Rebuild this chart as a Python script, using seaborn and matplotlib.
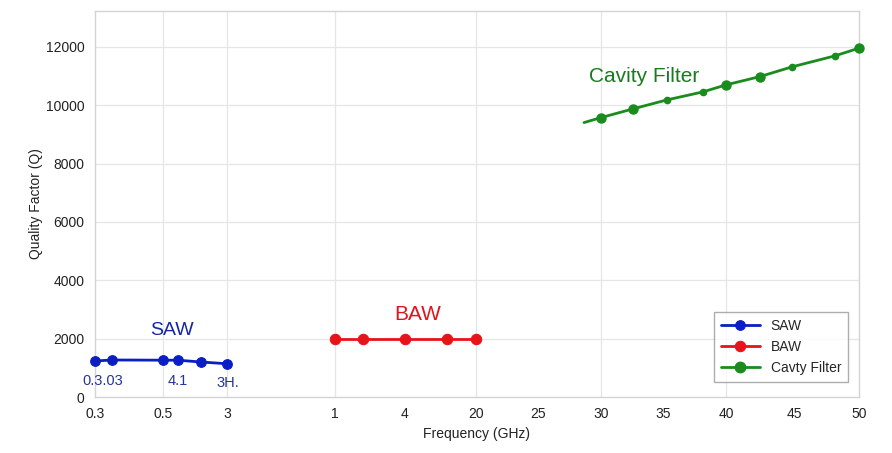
import numpy as np
import pandas as pd
import matplotlib
matplotlib.use("Agg")
import matplotlib.pyplot as plt
import seaborn as sns

# x axis is a custom (non-linear) frequency scale: label -> axis position
tick_labels = ["0.3", "0.5", "3", "1", "4", "20", "25", "30", "35", "40", "45", "50"]
tick_pos = [0, 68, 132, 240, 310, 381, 443, 506, 568, 631, 699, 764]
grid_pos = [68, 132, 240, 381, 506, 631]

saw_x = [0, 17, 68, 83, 106, 132]
saw_q = [1234, 1269, 1262, 1262, 1200, 1140]

baw_x = [240, 268, 310, 352, 381]
baw_q = [1990, 1990, 1990, 1990, 1990]

cav_x = [506, 538, 572, 608, 631, 665, 697, 740, 764]
cav_q = [9577, 9875, 10184, 10458, 10698, 10983, 11316, 11693, 11957]
cav_big = [True, True, False, False, True, True, False, False, True]
cav_start_x = 489
cav_start_q = 9406

saw_c = "#0a1ec4"
baw_c = "#e8121a"
cav_c = "#1a8c1e"

sns.set_style("white")
plt.rcParams["font.family"] = ["Liberation Sans", "DejaVu Sans"]

fig, ax = plt.subplots(figsize=(8.92, 4.53), dpi=100)
plt.subplots_adjust(left=0.1065, right=0.963, top=0.9757, bottom=0.1236)

for g in grid_pos:
    ax.axvline(g, color="#e6e6e6", lw=0.9, zorder=0)
for q in range(2000, 13000, 2000):
    ax.axhline(q, color="#e6e6e6", lw=0.9, zorder=0)

saw = pd.DataFrame({"x": saw_x, "q": saw_q})
baw = pd.DataFrame({"x": baw_x, "q": baw_q})
cav_line = pd.DataFrame({"x": [cav_start_x] + cav_x, "q": [cav_start_q] + cav_q})
cav = pd.DataFrame({"x": cav_x, "q": cav_q, "big": cav_big})

sns.lineplot(data=saw, x="x", y="q", color=saw_c, lw=2, marker="o", ms=7,
             mec=saw_c, label="SAW", ax=ax, clip_on=False, zorder=3)
sns.lineplot(data=baw, x="x", y="q", color=baw_c, lw=2, marker="o", ms=7.5,
             mec=baw_c, label="BAW", ax=ax, zorder=3)
sns.lineplot(data=cav_line, x="x", y="q", color=cav_c, lw=2, ax=ax, zorder=3)
ax.plot(cav.x[cav.big], cav.q[cav.big], "o", color=cav_c, ms=6.5, clip_on=False, zorder=4)
ax.plot(cav.x[~cav.big], cav.q[~cav.big], "o", color=cav_c, ms=4.5, clip_on=False, zorder=4)
# legend handle for cavity
ax.plot([], [], "-o", color=cav_c, lw=2, ms=7.5, label="Cavty Filter")

ax.text(77, 2263, "SAW", color="#1526a8", fontsize=14, ha="center", va="center")
ax.text(323, 2812, "BAW", color="#e0141c", fontsize=15, ha="center", va="center")
ax.text(549, 10983, "Cavity Filter", color="#1a7a1e", fontsize=15, ha="center", va="center")
ax.text(8, 549, "0.3.03", color="#26349a", fontsize=10.5, ha="center", va="center")
ax.text(83, 549, "4.1", color="#26349a", fontsize=10.5, ha="center", va="center")
ax.text(133, 480, "3H.", color="#26349a", fontsize=10.5, ha="center", va="center")

ax.set_xlim(tick_pos[0], tick_pos[-1])
ax.set_ylim(0, 13230)
ax.set_xticks(tick_pos)
ax.set_xticklabels(tick_labels)
ax.set_yticks(range(0, 13000, 2000))
ax.tick_params(axis="both", length=4, color="#bbbbbb", labelsize=10, labelcolor="#222222")
for s in ax.spines.values():
    s.set_color("#d4d4d4")
    s.set_linewidth(1)

ax.set_xlabel("Frequency (GHz)", fontsize=10, color="#222222")
ax.set_ylabel("Quality Factor (Q)", fontsize=10, color="#222222", labelpad=2)

handles, labels = ax.get_legend_handles_labels()
leg = ax.legend(handles, labels, loc="lower right", bbox_to_anchor=(0.995, 0.022),
                fontsize=10, frameon=True, fancybox=False, edgecolor="#999999",
                handlelength=2.8, borderpad=0.5, labelspacing=0.5)
leg.get_frame().set_linewidth(1)

plt.savefig("out.png", dpi=100)
